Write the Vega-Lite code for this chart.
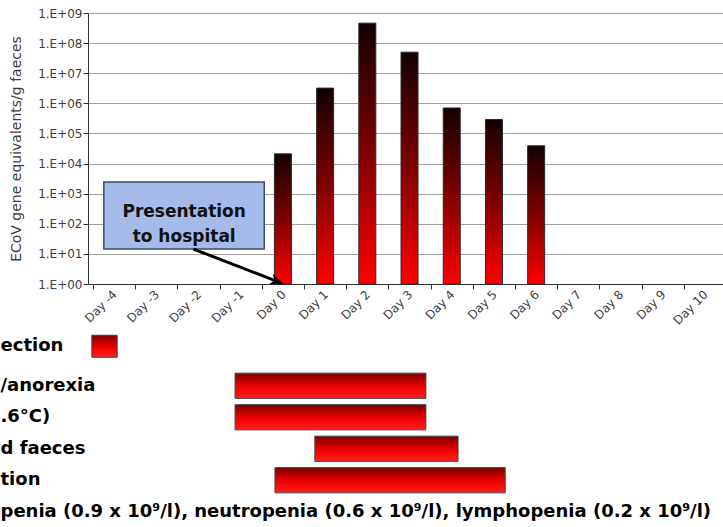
{
  "$schema": "https://vega.github.io/schema/vega-lite/v6.json",
  "background": "white",
  "padding": {"left": 0, "top": 7, "right": 0, "bottom": 0},
  "spacing": 12,
  "bounds": "flush",
  "config": {
    "view": {"stroke": null},
    "font": "DejaVu Sans"
  },
  "vconcat": [
    {
      "width": 635,
      "height": 271,
      "layer": [
        {
          "data": {"values": [
            {"day": 0, "value": 21000},
            {"day": 1, "value": 3200000},
            {"day": 2, "value": 460000000},
            {"day": 3, "value": 50000000},
            {"day": 4, "value": 700000},
            {"day": 5, "value": 290000},
            {"day": 6, "value": 39000}
          ]},
          "mark": {
            "type": "bar",
            "size": 17,
            "stroke": "#2a2a2a",
            "strokeWidth": 1,
            "fill": {"gradient": "linear", "x1": 0, "y1": 0, "x2": 0, "y2": 1,
              "stops": [{"offset": 0, "color": "#140000"}, {"offset": 0.5, "color": "#800000"}, {"offset": 1, "color": "#ff0000"}]}
          },
          "encoding": {
            "x": {
              "field": "day", "type": "quantitative",
              "scale": {"domain": [-4.5, 10.309], "nice": false, "zero": false},
              "axis": {
                "values": [-4.5, -3.5, -2.5, -1.5, -0.5, 0.5, 1.5, 2.5, 3.5, 4.5, 5.5, 6.5, 7.5, 8.5, 9.5],
                "labelExpr": "'Day ' + (datum.value + 0.5)",
                "labelOffset": 21.44,
                "labelAngle": -45,
                "labelAlign": "right",
                "labelBaseline": "middle",
                "labelPadding": 3,
                "tickSize": 5,
                "tickColor": "#333333",
                "domainColor": "#333333",
                "labelFont": "DejaVu Sans",
                "labelFontSize": 12,
                "labelColor": "#404040",
                "grid": false,
                "title": null,
                "labelOverlap": false,
                "labelFlush": false,
                "labelBound": false
              }
            },
            "y": {
              "field": "value", "type": "quantitative",
              "scale": {"type": "log", "domain": [1, 1000000000], "nice": false},
              "axis": {
                "values": [1, 10, 100, 1000, 10000, 100000, 1000000, 10000000, 100000000, 1000000000],
                "labelExpr": "'1.E+0' + round(log(datum.value) / LN10)",
                "title": "ECoV gene equivalents/g faeces",
                "titleFont": "DejaVu Sans",
                "titleFontSize": 14,
                "titleFontWeight": "normal",
                "titleColor": "#404040",
                "titlePadding": 14,
                "labelFont": "DejaVu Sans",
                "labelFontSize": 12,
                "labelColor": "#404040",
                "labelPadding": 1,
                "tickSize": 5,
                "tickColor": "#333333",
                "domainColor": "#333333",
                "grid": true,
                "gridColor": "#a0a0a0",
                "labelFlush": false,
                "labelOverlap": false
              }
            },
            "y2": {"datum": 1}
          }
        },
        {
          "data": {"values": [{}]},
          "mark": {"type": "rect", "fill": "#a4bae8", "stroke": "#3c4c6c", "strokeWidth": 1.5},
          "encoding": {
            "x": {"datum": -4.243, "type": "quantitative"},
            "x2": {"datum": -0.442},
            "y": {"datum": 2448, "type": "quantitative"},
            "y2": {"datum": 14.5}
          }
        },
        {
          "data": {"values": [{}]},
          "mark": {"type": "text", "text": ["Presentation", "to hospital"], "font": "DejaVu Sans", "fontWeight": "bold", "fontSize": 17, "lineHeight": 25, "align": "center", "baseline": "middle", "color": "#111111"},
          "encoding": {
            "x": {"datum": -2.34, "type": "quantitative"},
            "y": {"datum": 237, "type": "quantitative"}
          }
        },
        {
          "data": {"values": [{}]},
          "mark": {"type": "rule", "strokeWidth": 3, "color": "#000000"},
          "encoding": {
            "x": {"datum": -2.12, "type": "quantitative"},
            "y": {"datum": 14.5, "type": "quantitative"},
            "x2": {"datum": -0.158},
            "y2": {"datum": 1.25}
          }
        },
        {
          "data": {"values": [{}]},
          "mark": {"type": "point", "shape": "M0,0L-2,-0.8L-1.4,0L-2,0.8Z", "size": 196, "angle": 21, "filled": true, "fill": "#000000", "stroke": null, "opacity": 1},
          "encoding": {
            "x": {"datum": 0.02, "type": "quantitative"},
            "y": {"datum": 1, "type": "quantitative"}
          }
        }
      ]
    },
    {
      "width": 635,
      "height": 61.25,
      "data": {"values": [{"label": "ection", "start": -4.41, "end": -3.82}]},
      "mark": {
        "type": "bar",
        "stroke": "#444444",
        "strokeWidth": 1,
        "fill": {"gradient": "linear", "x1": 0, "y1": 0, "x2": 0, "y2": 1,
          "stops": [{"offset": 0, "color": "#7d0000"}, {"offset": 0.55, "color": "#f00000"}, {"offset": 1, "color": "#ff1f1f"}]}
      },
      "encoding": {
        "x": {"field": "start", "type": "quantitative", "scale": {"domain": [-4.5, 10.309], "nice": false, "zero": false}, "axis": null},
        "x2": {"field": "end"},
        "y": {
          "field": "label", "type": "nominal",
          "scale": {"paddingInner": 0, "paddingOuter": 0.892, "align": 1},
          "axis": {"title": null, "domain": false, "ticks": false, "tickSize": 0, "labelPadding": 88, "labelAlign": "left", "labelBaseline": "middle", "labelFont": "DejaVu Sans", "labelFontWeight": "bold", "labelFontSize": 18, "labelColor": "#000000", "labelLimit": 1000}
        }
      }
    },
    {
      "width": 635,
      "height": 157.5,
      "data": {"values": [
        {"symptom": "/anorexia", "start": -1.07, "end": 3.38},
        {"symptom": ".6°C)", "start": -1.07, "end": 3.38},
        {"symptom": "d faeces", "start": 0.79, "end": 4.13},
        {"symptom": "tion", "start": -0.14, "end": 5.23},
        {"symptom": "penia (0.9 x 10⁹/l), neutropenia (0.6 x 10⁹/l), lymphopenia (0.2 x 10⁹/l)", "start": null, "end": null}
      ]},
      "mark": {
        "type": "bar",
        "stroke": "#444444",
        "strokeWidth": 1,
        "fill": {"gradient": "linear", "x1": 0, "y1": 0, "x2": 0, "y2": 1,
          "stops": [{"offset": 0, "color": "#7d0000"}, {"offset": 0.55, "color": "#f00000"}, {"offset": 1, "color": "#ff1f1f"}]}
      },
      "encoding": {
        "x": {"field": "start", "type": "quantitative", "scale": {"domain": [-4.5, 10.309], "nice": false, "zero": false}, "axis": null},
        "x2": {"field": "end"},
        "y": {
          "field": "symptom", "type": "nominal", "sort": null,
          "scale": {
            "domain": ["/anorexia", ".6°C)", "d faeces", "tion", "penia (0.9 x 10⁹/l), neutropenia (0.6 x 10⁹/l), lymphopenia (0.2 x 10⁹/l)"],
            "paddingInner": 0.2, "paddingOuter": 0.1
          },
          "axis": {"title": null, "domain": false, "ticks": false, "tickSize": 0, "labelPadding": 88, "labelAlign": "left", "labelBaseline": "middle", "labelFont": "DejaVu Sans", "labelFontWeight": "bold", "labelFontSize": 18, "labelColor": "#000000", "labelLimit": 1000}
        }
      }
    }
  ]
}
